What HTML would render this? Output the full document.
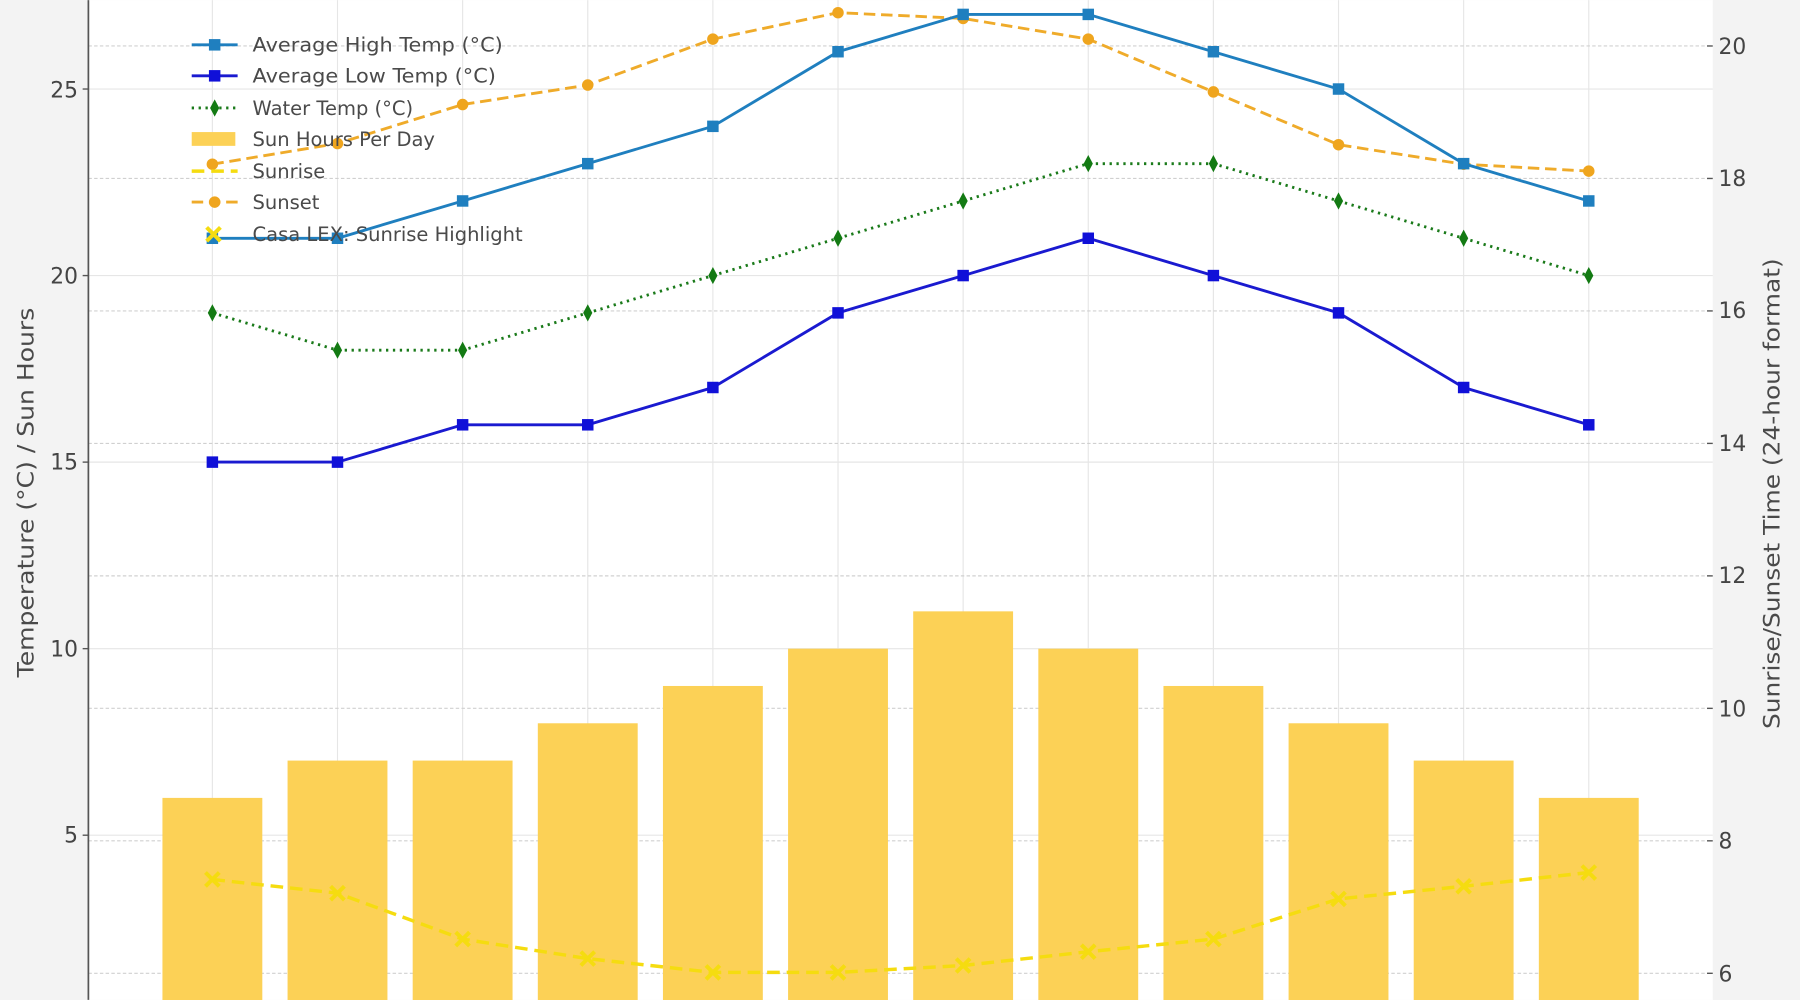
<!DOCTYPE html>
<html><head><meta charset="utf-8"><style>
html,body{margin:0;padding:0;background:#f3f3f3;}
svg{display:block;font-family:"DejaVu Sans","Liberation Sans",sans-serif;}
</style></head><body>
<svg width="1800" height="1000" viewBox="0 0 1568 871" xmlns="http://www.w3.org/2000/svg">
<rect x="0" y="0" width="1568" height="871" fill="#f3f3f3"/>
<rect x="77" y="0" width="1415" height="871" fill="#ffffff"/>
<g stroke="#e6e6e6" stroke-width="1">
<line x1="185" y1="0" x2="185" y2="871"/><line x1="294" y1="0" x2="294" y2="871"/><line x1="403" y1="0" x2="403" y2="871"/><line x1="512" y1="0" x2="512" y2="871"/><line x1="621" y1="0" x2="621" y2="871"/><line x1="730" y1="0" x2="730" y2="871"/><line x1="839" y1="0" x2="839" y2="871"/><line x1="948" y1="0" x2="948" y2="871"/><line x1="1057" y1="0" x2="1057" y2="871"/><line x1="1166" y1="0" x2="1166" y2="871"/><line x1="1275" y1="0" x2="1275" y2="871"/><line x1="1384" y1="0" x2="1384" y2="871"/>
</g>
<g stroke="#e6e6e6" stroke-width="1">
<line x1="77" y1="77.5" x2="1492" y2="77.5"/><line x1="77" y1="240" x2="1492" y2="240"/><line x1="77" y1="402.5" x2="1492" y2="402.5"/><line x1="77" y1="565" x2="1492" y2="565"/><line x1="77" y1="727.5" x2="1492" y2="727.5"/>
</g>
<g stroke="#d0d0d0" stroke-width="1" stroke-dasharray="3,2">
<line x1="77" y1="40" x2="1492" y2="40"/><line x1="77" y1="155.4" x2="1492" y2="155.4"/><line x1="77" y1="270.8" x2="1492" y2="270.8"/><line x1="77" y1="386.2" x2="1492" y2="386.2"/><line x1="77" y1="501.6" x2="1492" y2="501.6"/><line x1="77" y1="617" x2="1492" y2="617"/><line x1="77" y1="732.4" x2="1492" y2="732.4"/><line x1="77" y1="847.8" x2="1492" y2="847.8"/>
</g>
<g fill="#fcd156">
<rect x="141.5" y="695" width="87" height="180"/><rect x="250.5" y="662.5" width="87" height="210"/><rect x="359.5" y="662.5" width="87" height="210"/><rect x="468.5" y="630" width="87" height="250"/><rect x="577.5" y="597.5" width="87" height="280"/><rect x="686.5" y="565" width="87" height="310"/><rect x="795.5" y="532.5" width="87" height="340"/><rect x="904.5" y="565" width="87" height="310"/><rect x="1013.5" y="597.5" width="87" height="280"/><rect x="1122.5" y="630" width="87" height="250"/><rect x="1231.5" y="662.5" width="87" height="210"/><rect x="1340.5" y="695" width="87" height="180"/>
</g>
<polyline fill="none" stroke="#f5dc10" stroke-width="3" stroke-dasharray="11,6" points="185,766 294,778 403,818 512,835 621,847 730,847 839,841 948,829 1057,818 1166,783 1275,772 1384,760"/>
<g stroke="#f5dc10" stroke-width="3.5">
<path d="M179,760l12,12M191,760l-12,12M288,772l12,12M300,772l-12,12M397,812l12,12M409,812l-12,12M506,829l12,12M518,829l-12,12M615,841l12,12M627,841l-12,12M724,841l12,12M736,841l-12,12M833,835l12,12M845,835l-12,12M942,823l12,12M954,823l-12,12M1051,812l12,12M1063,812l-12,12M1160,777l12,12M1172,777l-12,12M1269,766l12,12M1281,766l-12,12M1378,754l12,12M1390,754l-12,12"/>
</g>
<polyline fill="none" stroke="#efab2a" stroke-width="2.5" stroke-dasharray="10,5" points="185,143 294,125 403,91 512,74 621,34 730,11 839,16 948,34 1057,80 1166,126 1275,143 1384,149"/>
<g fill="#efa51e">
<circle cx="185" cy="143" r="5"/><circle cx="294" cy="125" r="5"/><circle cx="403" cy="91" r="5"/><circle cx="512" cy="74" r="5"/><circle cx="621" cy="34" r="5"/><circle cx="730" cy="11" r="5"/><circle cx="839" cy="16" r="5"/><circle cx="948" cy="34" r="5"/><circle cx="1057" cy="80" r="5"/><circle cx="1166" cy="126" r="5"/><circle cx="1275" cy="143" r="5"/><circle cx="1384" cy="149" r="5"/>
</g>
<polyline fill="none" stroke="#1f7fbf" stroke-width="2.5" points="185,207.5 294,207.5 403,175 512,142.5 621,110 730,45 839,12.5 948,12.5 1057,45 1166,77.5 1275,142.5 1384,175"/>
<g fill="#1f7fbf">
<rect x="180" y="202.5" width="10" height="10"/><rect x="289" y="202.5" width="10" height="10"/><rect x="398" y="170" width="10" height="10"/><rect x="507" y="137.5" width="10" height="10"/><rect x="616" y="105" width="10" height="10"/><rect x="725" y="40" width="10" height="10"/><rect x="834" y="7.5" width="10" height="10"/><rect x="943" y="7.5" width="10" height="10"/><rect x="1052" y="40" width="10" height="10"/><rect x="1161" y="72.5" width="10" height="10"/><rect x="1270" y="137.5" width="10" height="10"/><rect x="1379" y="170" width="10" height="10"/>
</g>
<polyline fill="none" stroke="#1a1ad0" stroke-width="2.5" points="185,402.5 294,402.5 403,370 512,370 621,337.5 730,272.5 839,240 948,207.5 1057,240 1166,272.5 1275,337.5 1384,370"/>
<g fill="#1010d8">
<rect x="180" y="397.5" width="10" height="10"/><rect x="289" y="397.5" width="10" height="10"/><rect x="398" y="365" width="10" height="10"/><rect x="507" y="365" width="10" height="10"/><rect x="616" y="332.5" width="10" height="10"/><rect x="725" y="267.5" width="10" height="10"/><rect x="834" y="235" width="10" height="10"/><rect x="943" y="202.5" width="10" height="10"/><rect x="1052" y="235" width="10" height="10"/><rect x="1161" y="267.5" width="10" height="10"/><rect x="1270" y="332.5" width="10" height="10"/><rect x="1379" y="365" width="10" height="10"/>
</g>
<polyline fill="none" stroke="#1a7a1a" stroke-width="2.5" stroke-dasharray="2,4" points="185,272.5 294,305 403,305 512,272.5 621,240 730,207.5 839,175 948,142.5 1057,142.5 1166,175 1275,207.5 1384,240"/>
<g fill="#137a13">
<path d="M185,265l4,7.5l-4,7.5l-4,-7.5z M294,297.5l4,7.5l-4,7.5l-4,-7.5z M403,297.5l4,7.5l-4,7.5l-4,-7.5z M512,265l4,7.5l-4,7.5l-4,-7.5z M621,232.5l4,7.5l-4,7.5l-4,-7.5z M730,200l4,7.5l-4,7.5l-4,-7.5z M839,167.5l4,7.5l-4,7.5l-4,-7.5z M948,135l4,7.5l-4,7.5l-4,-7.5z M1057,135l4,7.5l-4,7.5l-4,-7.5z M1166,167.5l4,7.5l-4,7.5l-4,-7.5z M1275,200l4,7.5l-4,7.5l-4,-7.5z M1384,232.5l4,7.5l-4,7.5l-4,-7.5z"/>
</g>
<g font-size="17" fill="#4a4a4a">
<line x1="167" y1="39" x2="207" y2="39" stroke="#1f7fbf" stroke-width="2.5"/><rect x="182" y="34" width="10" height="10" fill="#1f7fbf"/>
<text x="220" y="45" textLength="218" lengthAdjust="spacingAndGlyphs">Average High Temp (°C)</text>
<line x1="167" y1="66" x2="207" y2="66" stroke="#1a1ad0" stroke-width="2.5"/><rect x="182" y="61" width="10" height="10" fill="#1010d8"/>
<text x="220" y="72" textLength="212" lengthAdjust="spacingAndGlyphs">Average Low Temp (°C)</text>
<line x1="167" y1="94" x2="207" y2="94" stroke="#1a7a1a" stroke-width="2.5" stroke-dasharray="2,4"/><path d="M187,86.5l4,7.5l-4,7.5l-4,-7.5z" fill="#137a13"/>
<text x="220" y="100">Water Temp (°C)</text>
<rect x="167" y="115" width="38" height="12" fill="#fcd156"/>
<text x="220" y="127">Sun Hours Per Day</text>
<line x1="167" y1="149" x2="207" y2="149" stroke="#f5dc10" stroke-width="3" stroke-dasharray="11,6"/>
<text x="220" y="155">Sunrise</text>
<line x1="167" y1="176" x2="207" y2="176" stroke="#efab2a" stroke-width="2.5" stroke-dasharray="10,5"/><circle cx="187" cy="176" r="5" fill="#efa51e"/>
<text x="220" y="182">Sunset</text>
<path d="M180,198l12,12M192,198l-12,12" stroke="#f5dc10" stroke-width="3.5"/>
<text x="220" y="210">Casa LEX: Sunrise Highlight</text>
</g>
<line x1="77" y1="0" x2="77" y2="871" stroke="#555" stroke-width="1.5"/>
<g stroke="#555" stroke-width="1.2">
<line x1="72" y1="77.5" x2="77" y2="77.5"/><line x1="72" y1="240" x2="77" y2="240"/><line x1="72" y1="402.5" x2="77" y2="402.5"/><line x1="72" y1="565" x2="77" y2="565"/><line x1="72" y1="727.5" x2="77" y2="727.5"/>
<line x1="1487" y1="40" x2="1492" y2="40"/><line x1="1487" y1="155.4" x2="1492" y2="155.4"/><line x1="1487" y1="270.8" x2="1492" y2="270.8"/><line x1="1487" y1="386.2" x2="1492" y2="386.2"/><line x1="1487" y1="501.6" x2="1492" y2="501.6"/><line x1="1487" y1="617" x2="1492" y2="617"/><line x1="1487" y1="732.4" x2="1492" y2="732.4"/><line x1="1487" y1="847.8" x2="1492" y2="847.8"/>
</g>
<g font-size="19" fill="#444" text-anchor="end">
<text x="68" y="85">25</text><text x="68" y="247">20</text><text x="68" y="409">15</text><text x="68" y="572">10</text><text x="68" y="734">5</text>
</g>
<g font-size="19" fill="#444">
<text x="1497" y="47">20</text><text x="1497" y="162">18</text><text x="1497" y="277">16</text><text x="1497" y="393">14</text><text x="1497" y="508">12</text><text x="1497" y="624">10</text><text x="1497" y="739">8</text><text x="1497" y="855">6</text>
</g>
<text transform="translate(29,429) rotate(-90)" font-size="19" fill="#4a4a4a" text-anchor="middle" textLength="322" lengthAdjust="spacingAndGlyphs">Temperature (°C) / Sun Hours</text>
<text transform="translate(1550,430) rotate(-90)" font-size="19" fill="#4a4a4a" text-anchor="middle" textLength="410" lengthAdjust="spacingAndGlyphs">Sunrise/Sunset Time (24-hour format)</text>
</svg>
</body></html>
